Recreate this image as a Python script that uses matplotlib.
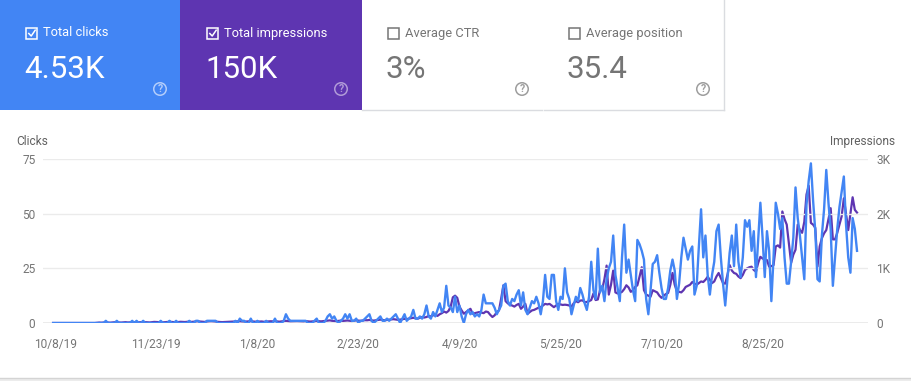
import matplotlib as mpl
mpl.use('Agg')
import matplotlib.pyplot as plt
from matplotlib.patches import Rectangle, Ellipse
from matplotlib.lines import Line2D
import pandas as pd

plt.rcParams['font.family'] = ['Roboto', 'DejaVu Sans']

# summary cards
card_labels = ['Total clicks', 'Total impressions', 'Average CTR', 'Average position']
card_values = ['4.53K', '150K', '3%', '35.4']
card_checked = [True, True, False, False]
card_colors = ['#4285F4', '#5E35B1', 'white', 'white']

# daily series, one value per day starting 10/7/19
start_date = '2019-10-07'
clicks = [
    0, 0, 0, 0, 0, 0, 0, 0, 0, 0,
    0, 0, 0, 0, 0, 0, 0, 0, 0, 0,
    0, 0, 0, 0, 1, 0, 0, 0, 0, 1,
    0, 0, 0, 0, 0, 0, 1, 0, 1, 0,
    0, 1, 0, 0, 0, 0, 0, 0, 0, 1,
    0, 0, 0, 1, 0, 0, 1, 0, 0, 0,
    0, 0, 1, 0, 0, 1, 1, 0, 0, 0,
    1, 1, 1, 1, 1, 0, 0, 0, 0, 0,
    0, 0, 0, 1, 0, 2, 1, 1, 0, 0,
    2, 0, 0, 1, 0, 0, 0, 1, 0, 0,
    0, 2, 0, 0, 0, 1, 4, 2, 1, 1,
    1, 1, 1, 1, 1, 1, 0, 0, 0, 1,
    2, 0, 0, 0, 1, 3, 4, 2, 3, 1,
    0, 1, 2, 4, 2, 4, 1, 1, 2, 0,
    1, 1, 2, 3, 4, 1, 0, 1, 2, 3,
    1, 1, 2, 1, 2, 3, 4, 2, 0, 2,
    4, 1, 2, 3, 6, 2, 2, 3, 2, 4,
    8, 3, 2, 5, 3, 6, 9, 5, 7, 17,
    8, 7, 5, 12, 5, 8, 3, 0, 4, 6,
    4, 5, 3, 4, 3, 6, 13, 9, 9, 9,
    9, 7, 4, 6, 8, 17, 18, 10, 8, 11,
    10, 13, 15, 8, 14, 6, 4, 7, 10, 9,
    12, 9, 4, 10, 22, 12, 11, 22, 22, 10,
    6, 12, 11, 25, 14, 11, 4, 8, 12, 10,
    16, 13, 9, 6, 12, 28, 15, 11, 34, 14,
    17, 10, 20, 25, 28, 40, 22, 16, 10, 30,
    45, 23, 29, 22, 15, 10, 38, 36, 33, 29,
    11, 4, 15, 27, 28, 31, 23, 16, 11, 11,
    16, 24, 29, 24, 11, 18, 30, 39, 34, 29,
    33, 35, 13, 17, 35, 52, 30, 40, 22, 13,
    22, 28, 42, 45, 30, 18, 8, 20, 32, 40,
    26, 45, 28, 21, 30, 47, 44, 47, 33, 42,
    21, 38, 55, 39, 21, 42, 33, 10, 30, 55,
    50, 43, 48, 30, 18, 18, 28, 39, 62, 48,
    40, 30, 20, 54, 65, 73, 56, 42, 20, 19,
    40, 52, 70, 55, 43, 17, 30, 43, 53, 60,
    67, 45, 30, 23, 48, 43, 33,
]
impressions = [
    0, 0, 0, 0, 0, 0, 0, 0, 0, 0,
    0, 0, 0, 0, 0, 0, 0, 0, 0, 0,
    5, 8, 6, 10, 12, 8, 6, 10, 14, 12,
    10, 8, 12, 15, 10, 12, 18, 14, 16, 12,
    14, 18, 15, 12, 10, 14, 20, 18, 16, 14,
    12, 16, 20, 22, 18, 16, 14, 18, 22, 20,
    18, 22, 25, 20, 24, 28, 30, 26, 22, 20,
    26, 30, 32, 28, 24, 20, 18, 16, 18, 20,
    22, 26, 24, 30, 28, 32, 26, 24, 28, 30,
    32, 28, 24, 26, 30, 28, 22, 26, 30, 32,
    30, 34, 28, 24, 30, 36, 40, 34, 30, 32,
    36, 34, 32, 30, 28, 34, 30, 26, 28, 32,
    36, 32, 30, 34, 38, 42, 48, 40, 36, 34,
    40, 44, 38, 42, 46, 40, 36, 42, 48, 44,
    40, 46, 52, 50, 56, 48, 44, 50, 58, 62,
    55, 50, 56, 60, 66, 70, 64, 58, 62, 70,
    76, 72, 80, 90, 96, 86, 80, 94, 110, 100,
    110, 130, 120, 140, 150, 130, 160, 180, 210, 190,
    220, 300, 470, 500, 460, 300, 230, 170, 200, 230,
    260, 170, 180, 190, 200, 190, 180, 210, 200, 150,
    110, 140, 200, 230, 450, 690, 400, 360, 330, 320,
    300, 330, 350, 260, 300, 350, 170, 200, 230, 240,
    260, 280, 290, 320, 350, 340, 350, 320, 290, 320,
    350, 340, 330, 335, 330, 320, 300, 360, 400, 380,
    410, 415, 380, 385, 400, 420, 540, 420, 430, 600,
    620, 800, 1050, 520, 700, 960, 560, 540, 550, 570,
    620, 690, 650, 570, 600, 660, 690, 850, 1020, 600,
    520, 500, 480, 600, 580, 560, 500, 460, 500, 530,
    550, 700, 915, 700, 580, 570, 560, 600, 660, 680,
    700, 750, 720, 700, 730, 760, 750, 790, 845, 790,
    730, 760, 850, 915, 820, 730, 720, 880, 1060, 960,
    915, 900, 850, 820, 880, 970, 1000, 1020, 1030, 970,
    940, 1100, 1210, 1180, 1160, 1150, 1030, 1040, 1060, 1400,
    1420, 1380, 2040, 1900, 1800, 1450, 1100, 1250, 1340, 1800,
    1700, 1650, 1850, 2350, 2510, 1830, 1800, 1740, 1030, 1400,
    1550, 1640, 1700, 1900, 2100, 1530, 1530, 1650, 1800, 1950,
    2280, 2000, 1700, 2000, 2300, 2070, 2020,
]

x_ticks = ['2019-10-08', '2019-11-23', '2020-01-08', '2020-02-23',
           '2020-04-09', '2020-05-25', '2020-07-10', '2020-08-25']
x_tick_labels = ['10/8/19', '11/23/19', '1/8/20', '2/23/20',
                 '4/9/20', '5/25/20', '7/10/20', '8/25/20']
click_ticks = [0, 25, 50, 75]
imp_ticks = [0, 1000, 2000, 3000]
imp_tick_labels = ['0', '1K', '2K', '3K']

W, H = 912, 381
def px(x):
    return x / W
def py(y):
    return 1 - y / H

fig = plt.figure(figsize=(W / 100, H / 100), dpi=100)

# ---- cards ----
card_w = 181
for i, (lab, val, chk, col) in enumerate(zip(card_labels, card_values, card_checked, card_colors)):
    x0 = i * card_w
    filled = col != 'white'
    fg = 'white' if filled else '#757575'
    # start the purple card at 180 so it meets the blue one
    left = 180 if i == 1 else x0
    fig.add_artist(Rectangle((px(left), py(110)), px(x0 + card_w - left), 110 / H,
                             transform=fig.transFigure, facecolor=col, edgecolor='none'))
    # checkbox
    box_ec = 'white' if filled else '#757575'
    fig.add_artist(Rectangle((px(x0 + 26.5), py(38.5)), px(10.5), 10.5 / H,
                             transform=fig.transFigure, facecolor='none',
                             edgecolor=box_ec, lw=1.1))
    if chk:
        fig.add_artist(Line2D([px(x0 + 28.8), px(x0 + 31.2), px(x0 + 35.2)],
                              [py(33.5), py(36), py(30.2)],
                              transform=fig.transFigure, color='white', lw=1.1))
    fig.text(px(x0 + 43), py(33), lab, color=fg, fontsize=9.3, va='center', ha='left')
    fig.text(px(x0 + 24), py(78.5), val, color=fg, fontsize=22.5, va='baseline', ha='left')
    # help icon
    q_col = '#b3cdfb' if i == 0 else ('#b09ad8' if i == 1 else '#9e9e9e')
    fig.add_artist(Ellipse((px(x0 + 160), py(89)), 12.5 / W, 12.5 / H,
                           transform=fig.transFigure, facecolor='none',
                           edgecolor=q_col, lw=1.1))
    fig.text(px(x0 + 160), py(89.3), '?', color=q_col, fontsize=7.5,
             ha='center', va='center', fontweight='bold')

# borders of the white cards
fig.add_artist(Line2D([px(362), px(542)], [py(109.5), py(109.5)],
                      transform=fig.transFigure, color='#dadce0', lw=1))
fig.add_artist(Line2D([px(544), px(724)], [py(109.5), py(109.5)],
                      transform=fig.transFigure, color='#dadce0', lw=1))
fig.add_artist(Line2D([px(724), px(724)], [py(0), py(110)],
                      transform=fig.transFigure, color='#dadce0', lw=1))

# ---- chart ----
dates = pd.date_range(start_date, periods=len(clicks))
ax = fig.add_axes([px(43), py(323), 825 / W, 164 / H])
ax2 = ax.twinx()
ax.set_zorder(ax2.get_zorder() + 1)
ax.patch.set_visible(False)

ax2.plot(dates, impressions, color='#5E35B1', lw=1.6, solid_joinstyle='round')
ax.plot(dates, clicks, color='#4285F4', lw=1.7, solid_joinstyle='round')

ax.set_xlim(dates[0] - pd.Timedelta(days=4.6), dates[-1] + pd.Timedelta(days=5))
ax.set_ylim(0, 75)
ax2.set_ylim(0, 3000)

ax.set_yticks(click_ticks)
ax2.set_yticks(imp_ticks)
ax2.set_yticklabels(imp_tick_labels)
ax.set_xticks(pd.to_datetime(x_ticks))
ax.set_xticklabels(x_tick_labels)

for a in (ax, ax2):
    for s in a.spines.values():
        s.set_visible(False)
    a.tick_params(length=0, colors='#757575', labelsize=8.6)
ax.tick_params(axis='x', pad=11)
ax.tick_params(axis='y', pad=5.5)
ax2.tick_params(axis='y', pad=6)

ax.yaxis.grid(True, color='#ebebeb', lw=1)
ax.set_axisbelow(True)
ax.axhline(0, color='#9e9e9e', lw=1, zorder=0.5)

fig.text(px(16), py(141.5), 'Clicks', color='#616161', fontsize=8.6, va='center', ha='left')
fig.text(px(895), py(141.5), 'Impressions', color='#616161', fontsize=8.6, va='center', ha='right')

# card bottom shadow
fig.add_artist(Rectangle((0, 0), 1, 3 / H, transform=fig.transFigure,
                         facecolor='#ececec', edgecolor='none'))
fig.add_artist(Line2D([0, 1], [py(378), py(378)], transform=fig.transFigure,
                      color='#d4d4d4', lw=1))

fig.savefig('out.png', dpi=100)
